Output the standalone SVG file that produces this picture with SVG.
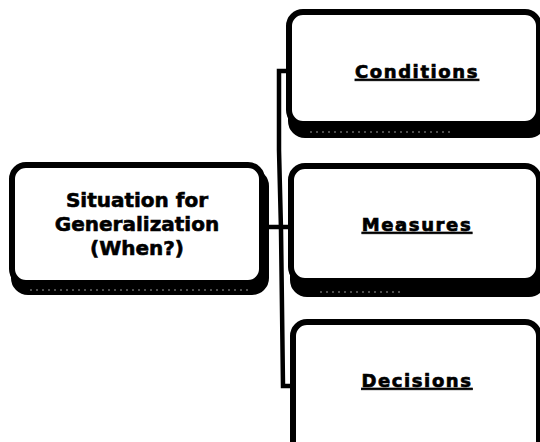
<svg xmlns="http://www.w3.org/2000/svg" width="540" height="442" viewBox="0 0 540 442">
<style>
.shadow{fill:#000;stroke:#000;stroke-width:6}
.box{fill:#fff;stroke:#000;stroke-width:6}
.dots{stroke:#999;stroke-width:1.2;stroke-dasharray:2 4;fill:none}
.lbl{font-family:"DejaVu Sans","Liberation Sans",sans-serif;font-weight:bold;font-size:18px;letter-spacing:1.6px;text-decoration:underline;fill:#000;stroke:#000;stroke-width:0.7;text-anchor:middle}
.main{font-family:"DejaVu Sans","Liberation Sans",sans-serif;font-weight:bold;font-size:20px;fill:#000;stroke:#000;stroke-width:0.6;text-anchor:middle}
.conn{stroke:#000;stroke-width:4.5;fill:none;stroke-linejoin:miter}
</style>
<rect width="540" height="442" fill="#fff"/>
<g id="connectors">
<path class="conn" d="M290,71 L279,71 L279,150 L281,230 L283,386 L294,386"/>
<path class="conn" d="M266,227 L292,227"/>
</g>
<g id="situation">
<rect class="shadow" x="14" y="172" width="252" height="120" rx="14"/>
<rect class="box" x="12" y="165" width="250" height="118" rx="14"/>
<line class="dots" x1="30" y1="290" x2="250" y2="290"/>
<text class="main" x="137" y="207">Situation for</text>
<text class="main" x="137" y="231">Generalization</text>
<text class="main" x="137" y="255">(When?)</text>
</g>
<g id="conditions">
<rect class="shadow" x="291" y="18" width="252" height="117" rx="14"/>
<rect class="box" x="289" y="12" width="250" height="112" rx="14"/>
<line class="dots" x1="310" y1="132" x2="450" y2="132"/>
<text class="lbl" x="417" y="78">Conditions</text>
</g>
<g id="measures">
<rect class="shadow" x="293" y="172" width="250" height="122" rx="14"/>
<rect class="box" x="291" y="166" width="248" height="115" rx="14"/>
<line class="dots" x1="320" y1="292" x2="400" y2="292"/>
<text class="lbl" x="417" y="231">Measures</text>
</g>
<g id="decisions">
<rect class="shadow" x="295" y="328" width="248" height="140" rx="14"/>
<rect class="box" x="293" y="322" width="246" height="140" rx="14"/>
<text class="lbl" x="417" y="387">Decisions</text>
</g>
</svg>
